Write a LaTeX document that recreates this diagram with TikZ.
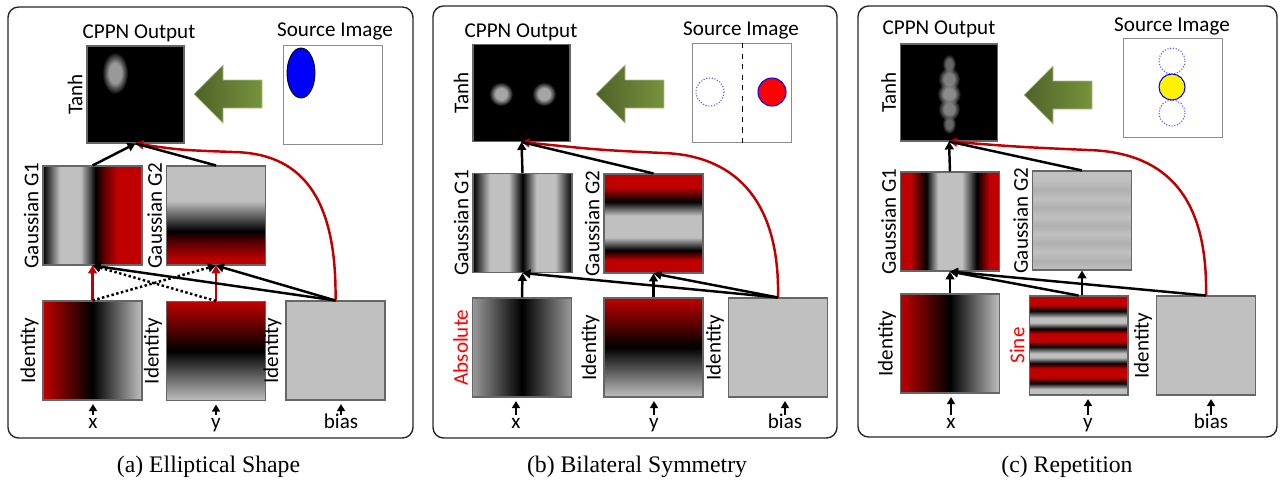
\documentclass[tikz,border=0pt]{standalone}
\usepackage{fontspec}
\setmainfont{Carlito}
\newfontfamily\capfont{Liberation Serif}
\usetikzlibrary{arrows.meta,fadings}

\definecolor{cred}{HTML}{C00000}
\definecolor{dred}{HTML}{600000}
\definecolor{cgray}{HTML}{C0C0C0}
\definecolor{sgray}{HTML}{B0B0B0}
\definecolor{agray}{HTML}{9A9A9A}
\definecolor{gdark}{HTML}{4F6228}
\definecolor{glight}{HTML}{77933C}

\pgfdeclarehorizontalshading{identx}{100bp}{color(0bp)=(cred); color(25bp)=(cred); color(50bp)=(black); color(75bp)=(cgray); color(100bp)=(cgray)}
\pgfdeclareverticalshading{identy}{100bp}{color(0bp)=(cgray); color(25bp)=(cgray); color(50bp)=(black); color(75bp)=(cred); color(100bp)=(cred)}
\pgfdeclarehorizontalshading{absx}{100bp}{color(0bp)=(agray); color(25bp)=(agray); color(50bp)=(black); color(75bp)=(agray); color(100bp)=(agray)}
\pgfdeclarehorizontalshading{gausA1}{100bp}{color(0bp)=(black); color(25bp)=(black); color(33.5bp)=(cgray); color(44bp)=(cgray); color(51.5bp)=(black); color(56bp)=(dred); color(62.5bp)=(cred); color(100bp)=(cred)}
\pgfdeclareverticalshading{gausA2}{100bp}{color(0bp)=(cred); color(27.5bp)=(cred); color(36bp)=(dred); color(42bp)=(black); color(57.5bp)=(cgray); color(100bp)=(cgray)}
\pgfdeclarehorizontalshading{gausB1}{100bp}{color(0bp)=(black); color(25bp)=(black); color(33.5bp)=(cgray); color(43bp)=(cgray); color(50bp)=(black); color(57bp)=(cgray); color(66.5bp)=(cgray); color(75bp)=(black); color(100bp)=(black)}
\pgfdeclareverticalshading{gausB2}{100bp}{color(0bp)=(cred); color(31.5bp)=(cred); color(36.5bp)=(black); color(43bp)=(cgray); color(54bp)=(cgray); color(61bp)=(black); color(68.5bp)=(cred); color(100bp)=(cred)}
\pgfdeclarehorizontalshading{gausC1}{100bp}{color(0bp)=(cred); color(30bp)=(cred); color(38bp)=(black); color(44bp)=(cgray); color(56bp)=(cgray); color(63.5bp)=(black); color(70bp)=(cred); color(100bp)=(cred)}
\pgfdeclareverticalshading{sine}{100bp}{color(0bp)=(cgray); color(28bp)=(cgray); color(31bp)=(black); color(34bp)=(cred); color(38.5bp)=(cred); color(41bp)=(black); color(44bp)=(cgray); color(46bp)=(cgray); color(49.5bp)=(black); color(52bp)=(cred); color(56bp)=(cred); color(58.5bp)=(black); color(61.5bp)=(cgray); color(64bp)=(cgray); color(67.5bp)=(black); color(70.5bp)=(cred); color(100bp)=(cred)}
\pgfdeclareverticalshading{gausC2}{100bp}{color(0bp)=(cgray); color(25bp)=(cgray); color(29.5bp)=(sgray); color(34bp)=(cgray); color(38.5bp)=(sgray); color(43bp)=(cgray); color(47.5bp)=(sgray); color(52bp)=(cgray); color(56.5bp)=(sgray); color(61bp)=(cgray); color(65.5bp)=(sgray); color(70bp)=(cgray); color(100bp)=(cgray)}

\pgfdeclareradialshading{blobshade}{\pgfpointorigin}{color(0bp)=(pgftransparent!0); color(12bp)=(pgftransparent!0); color(25bp)=(pgftransparent!100); color(50bp)=(pgftransparent!100)}
\pgfdeclarefading{softblob}{\pgfuseshading{blobshade}}

\newcommand{\garrow}[1]{\shade[left color=gdark, right color=glight, draw=glight!60!white, line width=0.4pt]
    (#1) -- ++(29,-29) -- ++(0,15) -- ++(39,0) -- ++(0,28) -- ++(-39,0) -- ++(0,15) -- cycle;}

\begin{document}
\begin{tikzpicture}[x=0.02cm, y=-0.02cm, font=\fontsize{12}{14}\selectfont]
    \tikzstyle{img}=[draw=black!60, line width=0.6pt, inner sep=0pt, minimum size=1.98cm]
    \tikzstyle{outimg}=[img, fill=black, minimum size=1.94cm]
    \tikzstyle{srcimg}=[img, fill=white, draw=black!45]
    \tikzstyle{vlab}=[rotate=90, anchor=south, inner sep=2pt]
    \tikzstyle{inp}=[anchor=base, inner sep=1pt, text height=1.3ex]
    \tikzstyle{panel}=[draw=black!85, line width=0.8pt, rounded corners=6pt]
    \tikzstyle{conn}=[draw, line width=1.4pt, -{Triangle[length=4.5pt,width=5pt]}]
    \tikzstyle{rconn}=[conn, cred]
    \tikzstyle{dconn}=[conn, dash pattern=on 1.4pt off 1.4pt]
    \tikzstyle{plain}=[draw, line width=1.4pt]
    \tikzstyle{iconn}=[draw, line width=1.3pt, -{Triangle[length=4pt,width=4.5pt]}, shorten >=2pt]
    \tikzstyle{capt}=[font=\capfont\fontsize{13.5}{16}\selectfont]

    \useasboundingbox (0,0) rectangle (1280,485);

    % (a)
    \draw[panel] (8,7) rectangle (413,438);
    \node (aoutt) at (139,33) {CPPN Output};
    \node (asrct) at (335,31) {Source Image};
    \node[outimg] (aout) at (135.5,94.5) {};
    \node[vlab] (aoutl) at (aout.west) {Tanh};
    \fill[black!40, path fading=softblob] (115,73) ellipse (13 and 21);
    \node[srcimg] (asrc) at (333,95) {};
    \draw[fill=blue, line width=0.5pt] (301,73) ellipse (14 and 25);
    \garrow{194,94}
    \node[img, shade, shading=gausA1] (ag1) at (92.5,215.5) {};
    \node[vlab] (ag1l) at (ag1.west) {Gaussian G1};
    \node[img, shade, shading=gausA2] (ag2) at (216,215.5) {};
    \node[vlab] (ag2l) at (ag2.west) {Gaussian G2};
    \node[img, shade, shading=identx] (aix) at (92.5,350.5) {};
    \node[vlab] (aixl) at (aix.west) {Identity};
    \node[img, shade, shading=identy] (aiy) at (216,351) {};
    \node[vlab] (aiyl) at (aiy.west) {Identity};
    \node[img, fill=cgray] (aib) at (335.5,350.5) {};
    \node[vlab] (aibl) at (aib.west) {Identity};
    \node[inp] (ax) at (93,428) {x};
    \node[inp] (ay) at (216,428) {y};
    \node[inp] (abias) at (341,428) {bias};

    \path (ax.north) edge[iconn] (ax.north |- aix.south)
          (ay.north) edge[iconn] (ay.north |- aiy.south)
          (abias.north) edge[iconn] (abias.north |- aib.south);
    \draw[rconn] (aib.north) .. controls (337,195) and (300,153) .. (233,152)
                 .. controls (180,150) .. (aout.south);
    \path (ag1.north) edge[conn] (aout.south)
          (ag2.north) edge[plain] (aout.south);
    \path (aix.north) edge[rconn] (ag1.south) edge[dconn] (ag2.south)
          (aiy.north) edge[rconn] (ag2.south) edge[dconn] (ag1.south)
          (aib.north) edge[conn] (ag1.south) edge[conn] (ag2.south);
    \node[capt] (capa) at (208.5,467) {(a) Elliptical Shape};

    % (b)
    \draw[panel] (433,6) rectangle (837,438);
    \node (boutt) at (521,32) {CPPN Output};
    \node (bsrct) at (741,30) {Source Image};
    \node[outimg] (bout) at (521.5,93) {};
    \node[vlab] (boutl) at (bout.west) {Tanh};
    \fill[black!35, path fading=softblob] (501,94) circle (12);
    \fill[black!35, path fading=softblob] (544,94) circle (12);
    \node[srcimg] (bsrc) at (742,93) {};
    \draw[dashed, line width=0.5pt] (bsrc.north) -- (bsrc.south);
    \draw[blue!70, densely dotted, line width=0.6pt] (710,92) circle (14);
    \draw[fill=red, draw=blue, line width=0.6pt] (772,92) circle (14);
    \garrow{596,94}
    \node[img, shade, shading=gausB1] (bg1) at (522.5,223) {};
    \node[vlab] (bg1l) at (bg1.west) {Gaussian G1};
    \node[img, shade, shading=gausB2] (bg2) at (653.5,223.5) {};
    \node[vlab] (bg2l) at (bg2.west) {Gaussian G2};
    \node[img, shade, shading=absx] (bix) at (522,347.5) {};
    \node[vlab, red] (bixl) at (bix.west) {Absolute};
    \node[img, shade, shading=identy] (biy) at (653.5,347.5) {};
    \node[vlab] (biyl) at (biy.west) {Identity};
    \node[img, fill=cgray] (bib) at (778,347.5) {};
    \node[vlab] (bibl) at (bib.west) {Identity};
    \node[inp] (bx) at (516,428) {x};
    \node[inp] (by) at (654,428) {y};
    \node[inp] (bbias) at (785,428) {bias};

    \path (bx.north) edge[iconn] (bx.north |- bix.south)
          (by.north) edge[iconn] (by.north |- biy.south)
          (bbias.north) edge[iconn] (bbias.north |- bib.south);
    \draw[rconn] (bib.north) .. controls (780,195) and (730,155) .. (663,153)
                 .. controls (600,150) .. (bout.south);
    \path (bg1.north) edge[conn] (bout.south)
          (bg2.north) edge[plain] (bout.south);
    \path (bix.north) edge[conn] (bg1.south)
          (biy.north) edge[conn] (bg2.south)
          (bib.north) edge[conn] (bg1.south) edge[conn] (bg2.south);
    \node[capt] (capb) at (637,467) {(b) Bilateral Symmetry};

    % (c)
    \draw[panel] (858,6) rectangle (1277,437);
    \node (coutt) at (939,29) {CPPN Output};
    \node (csrct) at (1172,26) {Source Image};
    \node[outimg] (cout) at (949,92.5) {};
    \node[vlab] (coutl) at (cout.west) {Tanh};
    \fill[black!60, path fading=softblob] (949,64) ellipse (7 and 10);
    \fill[black!50, path fading=softblob] (949,79) ellipse (11 and 12);
    \fill[black!45, path fading=softblob] (949,94) ellipse (12 and 12);
    \fill[black!50, path fading=softblob] (949,109) ellipse (11 and 12);
    \fill[black!60, path fading=softblob] (949,124) ellipse (7 and 10);
    \node[srcimg] (csrc) at (1173,88) {};
    \draw[blue!70, densely dotted, line width=0.6pt] (1172,61) circle (13);
    \draw[blue!70, densely dotted, line width=0.6pt] (1172,113) circle (13);
    \draw[fill=yellow, draw=blue, line width=0.6pt] (1172,87) circle (13);
    \garrow{1024,95}
    \node[img, shade, shading=gausC1] (cg1) at (950,221.5) {};
    \node[vlab] (cg1l) at (cg1.west) {Gaussian G1};
    \node[img, shade, shading=gausC2] (cg2) at (1082,220.5) {};
    \node[vlab] (cg2l) at (cg2.west) {Gaussian G2};
    \node[img, shade, shading=identx] (cix) at (950,343.5) {};
    \node[vlab] (cixl) at (cix.west) {Identity};
    \node[img, shade, shading=sine] (cis) at (1078.5,345.5) {};
    \node[vlab, red] (cisl) at (cis.west) {Sine};
    \node[img, fill=cgray] (cib) at (1206,345.5) {};
    \node[vlab] (cibl) at (cib.west) {Identity};
    \node[inp] (cx) at (951,428) {x};
    \node[inp] (cy) at (1088,428) {y};
    \node[inp] (cbias) at (1211,428) {bias};

    \path (cx.north) edge[iconn] (cx.north |- cix.south)
          (cy.north) edge[iconn] (cy.north |- cis.south)
          (cbias.north) edge[iconn] (cbias.north |- cib.south);
    \draw[rconn] (cib.north) .. controls (1208,190) and (1160,152) .. (1088,150)
                 .. controls (1020,147) .. (cout.south);
    \path (cg1.north) edge[conn] (cout.south)
          (cg2.north) edge[plain] (cout.south);
    \path (cix.north) edge[conn] (cg1.south)
          (cis.north) edge[conn] (cg1.south)
          (cg2.south |- cis.north) edge[conn] (cg2.south)
          (cib.north) edge[conn] (cg1.south);
    \node[capt] (capc) at (1067,467) {(c) Repetition};
\end{tikzpicture}
\end{document}
